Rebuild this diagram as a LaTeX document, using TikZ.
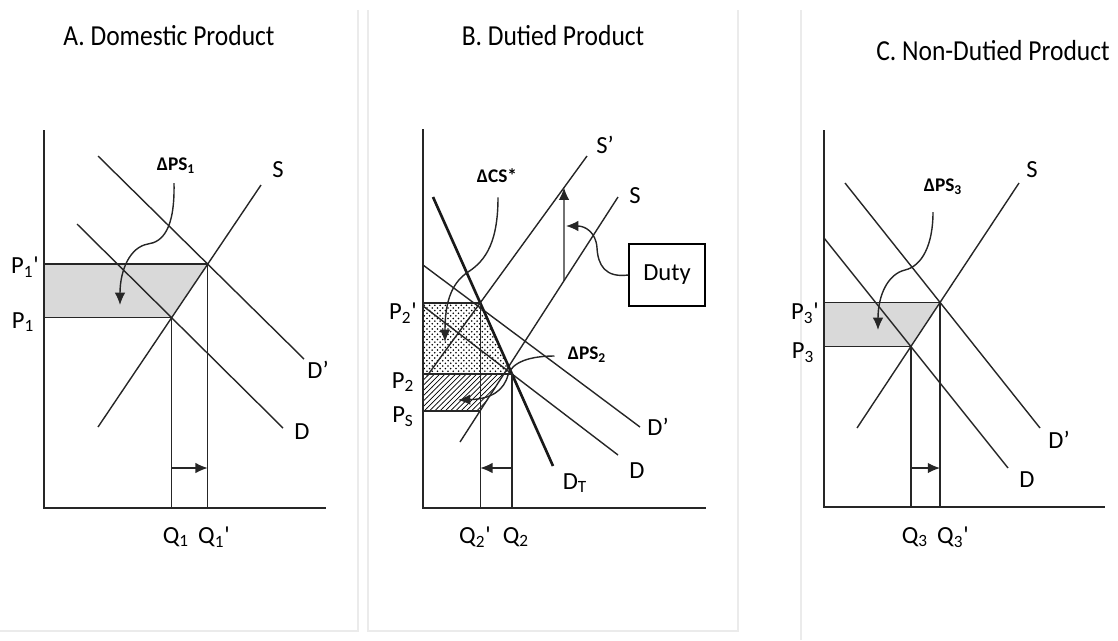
\documentclass[tikz,border=0pt]{standalone}
\usepackage{fontspec}
\setmainfont{Carlito}
\usetikzlibrary{arrows.meta,patterns,calc}

% narrow titles
\newcommand{\narrowtitle}[1]{\scalebox{0.88}[1]{#1}}

\begin{document}
\begin{tikzpicture}[x=0.02cm,y=-0.02cm,
    panelframe/.style={draw=black!8,line width=0.6pt},
    axisline/.style={line width=1.3pt,black!85},
    demline/.style={line width=0.8pt,black!85},
    thickline/.style={line width=1.5pt,black!90},
    qarrow/.style={demline,-{Latex[length=7pt,width=6pt]}},
    curlarrow/.style={demline,-{Latex[length=7pt,width=6pt]}},
    psfill/.style={fill=black!15},
    labtext/.style={font=\fontsize{14}{16}\selectfont,inner sep=0pt},
    deltatext/.style={font=\bfseries\fontsize{11}{13}\selectfont,inner sep=0pt},
    titletext/.style={font=\fontsize{16.5}{19}\selectfont,inner sep=0pt}]
    \useasboundingbox (0,0) rectangle (1118,640);

    % faint frames round the panels
    \draw[panelframe] (358,10) -- (358,631) -- (0,631);
    \draw[panelframe] (368,10) -- (368,631) -- (738,631) -- (738,10);
    \draw[panelframe] (801,10) -- (801,640);

    % titles
    \node[titletext] (tA) at (169,36) {\narrowtitle{A.~Domestic Product}};
    \node[titletext] (tB) at (553,36) {\narrowtitle{B.~Dutied Product}};
    \node[titletext] (tC) at (993,51) {\narrowtitle{C.~Non-Dutied Product}};

    % A. domestic product
    \coordinate (Ao) at (44,508);
    \coordinate (As1) at (98,427);  \coordinate (As2) at (261,185);
    \coordinate (Adp1) at (98,156); \coordinate (Adp2) at (304,359);
    \coordinate (Ad1) at (77,224);  \coordinate (Ad2) at (283,428);
    \coordinate (Ae) at (intersection of As1--As2 and Ad1--Ad2);
    \coordinate (Aep) at (intersection of As1--As2 and Adp1--Adp2);
    \coordinate (Ash) at (0,468);
    \fill[psfill] (Ao |- Aep) -- (Aep) -- (Ae) -- (Ao |- Ae) -- cycle;
    \draw[demline] (As1) -- (As2) (Adp1) -- (Adp2) (Ad1) -- (Ad2);
    \draw[demline] (Ao |- Aep) -- (Aep) -- (Aep |- Ao) (Ao |- Ae) -- (Ae) -- (Ae |- Ao);
    \draw[axisline] (44,130) -- (Ao) -- (326,508);
    \draw[qarrow] (Ae |- Ash) -- (Aep |- Ash);
    \node[labtext] (P1p) at (25,267) {P\textsubscript{1}\textquotesingle};
    \node[labtext] (P1) at (23,322) {P\textsubscript{1}};
    \node[labtext] (SA) at (278,170) {S};
    \node[labtext] (DpA) at (318,370) {D’};
    \node[labtext] (DA) at (302,432) {D};
    \node[labtext] (Q1) at (176,537) {Q\textsubscript{1}};
    \node[labtext] (Q1p) at (214,537) {Q\textsubscript{1}\textquotesingle};
    \node[deltatext] (dPS1) at (176,166) {ΔPS\textsubscript{1}};
    \coordinate (dPS1tip) at (120,305);
    \draw[curlarrow] ($(dPS1.south)+(-2,9)$) .. controls (175,230) and (162,242) .. (148,244)
        .. controls (130,247) and (120,270) .. (dPS1tip);

    % B. dutied product
    \coordinate (Bo) at (423,508);
    \coordinate (Bdt1) at (433,197); \coordinate (Bdt2) at (553,466);
    \coordinate (Bd1) at (423,306);  \coordinate (Bd2) at (618,455);
    \coordinate (Bdp1) at (423,265); \coordinate (Bdp2) at (640,427);
    \coordinate (Bsp1) at (427,376); \coordinate (Bsp2) at (587,156);
    \coordinate (Bs1) at (460,442);  \coordinate (Bs2) at (618,197);
    \coordinate (Be) at (intersection of Bdt1--Bdt2 and Bd1--Bd2);
    \coordinate (Bep) at (intersection of Bdt1--Bdt2 and Bsp1--Bsp2);
    \coordinate (Bpl) at (Bo |- Be);
    \coordinate (Bqp) at (Bep |- Bo);
    \coordinate (Bps) at (intersection of Bs1--Bs2 and Bep--Bqp);
    \coordinate (Bhs) at (intersection of Bs1--Bs2 and Bpl--Be);
    \coordinate (Bdl) at (intersection of Bs1--Bs2 and 564,0--564,600);
    \coordinate (Bdu) at (intersection of Bsp1--Bsp2 and 564,0--564,600);
    \coordinate (Bsh) at (0,468);
    \fill[pattern=crosshatch dots] (Bo |- Bep) -- (Bep) -- (Be) -- (Bpl) -- cycle;
    \fill[pattern=north east lines] (Bpl) -- (Bhs) -- (Bps) -- (Bo |- Bps) -- cycle;
    \draw[demline] (Bd1) -- (Bd2) (Bdp1) -- (Bdp2) (Bsp1) -- (Bsp2) (Bs1) -- (Bs2);
    \draw[thickline] (Bdt1) -- (Bdt2);
    \draw[demline] (Bo |- Bep) -- (Bep) -- (Bqp) (Bpl) -- (Be) -- (Be |- Bo);
    \draw[line width=1pt,black!85] (Bo |- Bps) -- (Bps);
    \draw[axisline] (423,129) -- (Bo) -- (706,508);
    \draw[qarrow] (Be |- Bsh) -- (Bep |- Bsh);
    \draw[qarrow] (Bdl) -- (Bdu);
    \node[labtext] (P2p) at (403,313) {P\textsubscript{2}\textquotesingle};
    \node[labtext] (P2) at (403,382) {P\textsubscript{2}};
    \node[labtext] (Ps) at (403,417) {P\textsubscript{S}};
    \node[labtext] (SpB) at (605,145) {S’};
    \node[labtext] (SB) at (635,196) {S};
    \node[labtext] (DpB) at (658,427) {D’};
    \node[labtext] (DB) at (637,471) {D};
    \node[labtext] (DT) at (575,483) {D\textsubscript{T}};
    \node[labtext] (Q2p) at (475,537) {Q\textsubscript{2}\textquotesingle};
    \node[labtext] (Q2) at (516,537) {Q\textsubscript{2}};
    \node[labtext,draw,line width=0.8pt,minimum width=1.52cm,minimum height=1.24cm] (duty) at (667,275) {Duty};
    \node[deltatext] (dCS) at (497,176) {ΔCS*};
    \node[deltatext] (dPS2) at (587,355) {ΔPS\textsubscript{2}};
    \coordinate (dCStip) at (445,342);
    \coordinate (dPS2tip) at (458,400);
    \coordinate (dutytip) at (566,226);
    \draw[curlarrow] ($(dCS.south)+(1,14)$) .. controls (498,240) and (487,260) .. (468,272)
        .. controls (450,284) and (445,305) .. (dCStip);
    \draw[curlarrow] ($(dPS2.west)+(-13,1)$) .. controls (530,356) and (512,362) .. (508,375)
        .. controls (504,390) and (492,399) .. (dPS2tip);
    \draw[curlarrow] (duty.west) .. controls (605,278) and (598,265) .. (597,248)
        .. controls (596,232) and (585,226) .. (dutytip);

    % C. non-dutied product
    \coordinate (Co) at (824,507);
    \coordinate (Cs1) at (857,428);  \coordinate (Cs2) at (1019,183);
    \coordinate (Cdp1) at (845,183); \coordinate (Cdp2) at (1040,428);
    \coordinate (Cd1) at (824,238);  \coordinate (Cd2) at (1008,468);
    \coordinate (Ce) at (intersection of Cs1--Cs2 and Cd1--Cd2);
    \coordinate (Cep) at (intersection of Cs1--Cs2 and Cdp1--Cdp2);
    \coordinate (Csh) at (0,468);
    \fill[psfill] (Co |- Cep) -- (Cep) -- (Ce) -- (Co |- Ce) -- cycle;
    \draw[demline] (Cs1) -- (Cs2) (Cdp1) -- (Cdp2) (Cd1) -- (Cd2);
    \draw[demline] (Co |- Cep) -- (Cep) -- (Cep |- Co) (Co |- Ce) -- (Ce) -- (Ce |- Co);
    \draw[axisline] (824,130) -- (Co) -- (1105,507);
    \draw[qarrow] (Ce |- Csh) -- (Cep |- Csh);
    \node[labtext] (P3p) at (805,313) {P\textsubscript{3}\textquotesingle};
    \node[labtext] (P3) at (803,353) {P\textsubscript{3}};
    \node[labtext] (SC) at (1032,170) {S};
    \node[labtext] (DpC) at (1059,440) {D’};
    \node[labtext] (DC) at (1027,480) {D};
    \node[labtext] (Q3) at (915,537) {Q\textsubscript{3}};
    \node[labtext] (Q3p) at (953,537) {Q\textsubscript{3}\textquotesingle};
    \node[deltatext] (dPS3) at (943,187) {ΔPS\textsubscript{3}};
    \coordinate (dPS3tip) at (878,330);
    \draw[curlarrow] ($(dPS3.south)+(-10,17)$) .. controls (933,245) and (922,266) .. (905,270)
        .. controls (888,274) and (878,295) .. (dPS3tip);
\end{tikzpicture}
\end{document}
